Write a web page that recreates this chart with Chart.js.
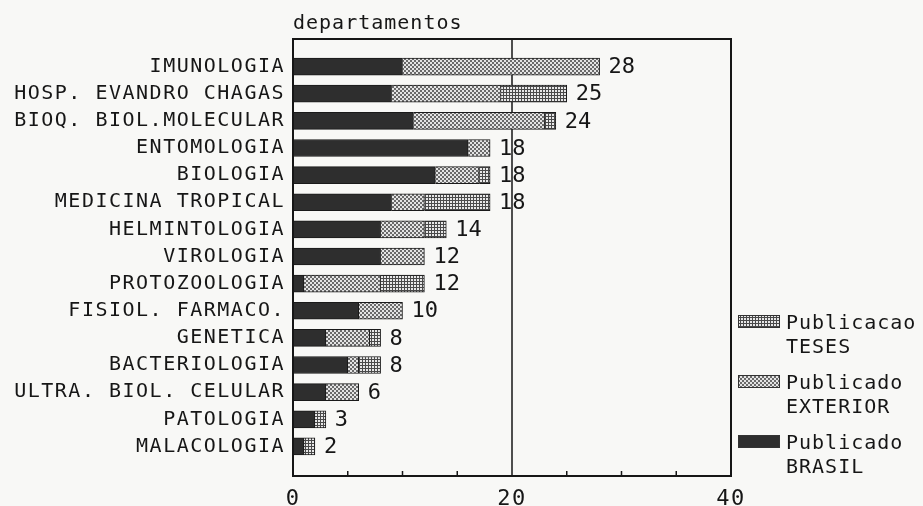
<!DOCTYPE html>
<html>
<head>
<meta charset="utf-8">
<script src="https://cdn.jsdelivr.net/npm/chart.js@4.4.1/dist/chart.umd.min.js"></script>
<style>
  html, body { margin: 0; padding: 0; background: #f8f8f6; }
  .chart-container { position: relative; width: 923px; height: 506px; }
</style>
</head>
<body>
<div class="chart-container"><canvas id="chart"></canvas></div>
<script>
const departamentos = [
  'IMUNOLOGIA', 'HOSP. EVANDRO CHAGAS', 'BIOQ. BIOL.MOLECULAR', 'ENTOMOLOGIA',
  'BIOLOGIA', 'MEDICINA TROPICAL', 'HELMINTOLOGIA', 'VIROLOGIA', 'PROTOZOOLOGIA',
  'FISIOL. FARMACO.', 'GENETICA', 'BACTERIOLOGIA', 'ULTRA. BIOL. CELULAR',
  'PATOLOGIA', 'MALACOLOGIA',
];
const publicadoBrasil   = [10, 9, 11, 16, 13, 9, 8, 8, 1, 6, 3, 5, 3, 2, 1];
const publicadoExterior = [18, 10, 12, 2, 4, 3, 4, 4, 7, 4, 4, 1, 3, 0, 0];
const publicacaoTeses   = [0, 6, 1, 0, 1, 6, 2, 0, 4, 0, 1, 2, 0, 1, 1];
const xTickLabels = [0, 20, 40];
const axisTitle = 'departamentos';

const FONT = '"DejaVu Sans Mono", "Liberation Mono", monospace';
const INK = '#161616';

const canvas = document.getElementById('chart');
const ctx = canvas.getContext('2d');

// small repeating tiles for the plotter-style fills
function makePattern(w, h, draw) {
  const tile = document.createElement('canvas');
  tile.width = w;
  tile.height = h;
  draw(tile.getContext('2d'));
  return ctx.createPattern(tile, 'repeat');
}

const brasilFill = '#2e2e2e';
const exteriorFill = makePattern(4, 4, t => {
  t.fillStyle = '#6a6a6a';
  t.fillRect(0, 0, 4, 4);
  t.fillStyle = '#e4e4e4';
  t.fillRect(0, 0, 2, 2);
  t.fillRect(2, 2, 2, 2);
});
const tesesFill = makePattern(3, 3, t => {
  t.fillStyle = '#4a4a4a';
  t.fillRect(0, 0, 3, 3);
  t.fillStyle = '#e8e8e8';
  t.fillRect(0, 0, 2, 2);
});

const totals = departamentos.map((_, i) => publicadoBrasil[i] + publicadoExterior[i] + publicacaoTeses[i]);

const decorPlugin = {
  id: 'decor',
  beforeDraw(chart) {
    chart.ctx.letterSpacing = '1.5px';
  },
  beforeDatasetsDraw(chart) {
    const { ctx, chartArea } = chart;
    const x = chart.scales.x;
    const top = chartArea.top - 14;
    const bottom = chartArea.bottom + 16;
    // vertical reference line at 20
    ctx.save();
    ctx.strokeStyle = INK;
    ctx.lineWidth = 1.5;
    const x20 = x.getPixelForValue(20);
    ctx.beginPath();
    ctx.moveTo(x20, top);
    ctx.lineTo(x20, bottom);
    ctx.stroke();
    ctx.restore();
  },
  afterDatasetsDraw(chart) {
    const { ctx, chartArea } = chart;
    const x = chart.scales.x;
    const y = chart.scales.y;
    const top = chartArea.top - 14;
    const bottom = chartArea.bottom + 16;

    ctx.save();
    // frame
    ctx.strokeStyle = INK;
    ctx.lineWidth = 2;
    ctx.strokeRect(chartArea.left, top, chartArea.right - chartArea.left, bottom - top);

    // minor ticks pointing up from the bottom edge
    ctx.lineWidth = 1.5;
    [5, 10, 15, 25, 30, 35].forEach(v => {
      const px = x.getPixelForValue(v);
      ctx.beginPath();
      ctx.moveTo(px, bottom);
      ctx.lineTo(px, bottom - 5);
      ctx.stroke();
    });

    // totals at bar ends
    ctx.letterSpacing = '0px';
    ctx.fillStyle = INK;
    ctx.font = `22px ${FONT}`;
    ctx.textAlign = 'left';
    ctx.textBaseline = 'middle';
    totals.forEach((t, i) => {
      ctx.fillText(String(t), x.getPixelForValue(t) + 9, y.getPixelForValue(i) + 1);
    });

    // axis caption above the frame
    ctx.letterSpacing = '1px';
    ctx.font = `20px ${FONT}`;
    ctx.textBaseline = 'alphabetic';
    ctx.fillText(axisTitle, chartArea.left, 29);
    ctx.restore();
  },
  afterDraw(chart) {
    // legend: TESES on top, BRASIL at the bottom, two-line labels
    const { ctx, chartArea } = chart;
    const sets = chart.data.datasets.slice().reverse();
    ctx.save();
    ctx.font = `20px ${FONT}`;
    ctx.letterSpacing = '1px';
    ctx.textAlign = 'left';
    ctx.textBaseline = 'middle';
    sets.forEach((ds, k) => {
      const bx = chartArea.right + 7;
      const by = 315 + k * 60;
      ctx.fillStyle = ds.backgroundColor;
      ctx.fillRect(bx, by, 42, 13);
      ctx.strokeStyle = '#333';
      ctx.lineWidth = 1;
      ctx.strokeRect(bx + 0.5, by + 0.5, 41, 12);
      ctx.fillStyle = INK;
      const lines = ds.label.split(' ');
      lines.forEach((ln, j) => ctx.fillText(ln, bx + 48, by + 9 + j * 24));
    });
    ctx.restore();
  },
};

new Chart(ctx, {
  type: 'bar',
  data: {
    labels: departamentos,
    datasets: [
      { label: 'Publicado BRASIL', data: publicadoBrasil, backgroundColor: brasilFill },
      { label: 'Publicado EXTERIOR', data: publicadoExterior, backgroundColor: exteriorFill },
      { label: 'Publicacao TESES', data: publicacaoTeses, backgroundColor: tesesFill },
    ].map(ds => ({ ...ds, borderColor: '#1a1a1a', borderWidth: 1, borderSkipped: 'start', barThickness: 17 })),
  },
  options: {
    indexAxis: 'y',
    responsive: true,
    maintainAspectRatio: false,
    animation: false,
    layout: { padding: { top: 53, right: 192, left: 0, bottom: 0 } },
    plugins: {
      legend: { display: false },
      tooltip: { enabled: false },
      title: { display: false },
    },
    scales: {
      x: {
        stacked: true,
        min: 0,
        max: 40,
        grid: { display: false, drawTicks: false },
        border: { display: false },
        ticks: {
          stepSize: 5,
          autoSkip: false,
          maxRotation: 0,
          padding: 26,
          color: INK,
          font: { family: FONT, size: 22 },
          callback: v => (xTickLabels.includes(v) ? String(v) : ''),
        },
        afterFit(scale) { scale.height = 46; },
      },
      y: {
        stacked: true,
        grid: { display: false, drawTicks: false },
        border: { display: false },
        ticks: {
          padding: 8,
          color: INK,
          font: { family: FONT, size: 20 },
        },
        afterFit(scale) { scale.width = 293; },
      },
    },
  },
  plugins: [decorPlugin],
});
</script>
</body>
</html>
